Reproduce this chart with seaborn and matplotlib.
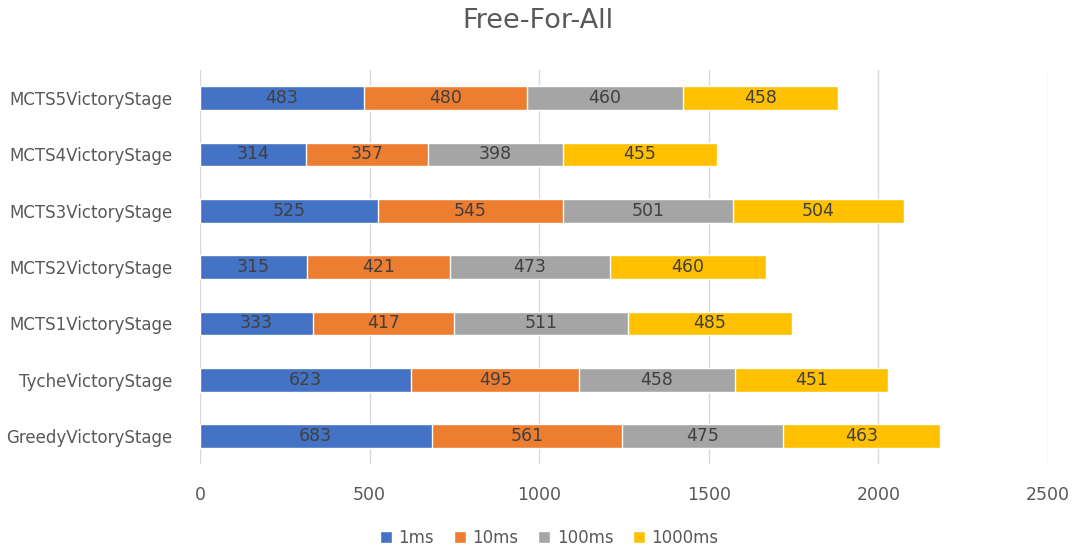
import matplotlib
matplotlib.use("Agg")
import matplotlib.pyplot as plt
import seaborn as sns
import pandas as pd
import numpy as np
from matplotlib.patches import Patch

categories = ["MCTS5VictoryStage", "MCTS4VictoryStage", "MCTS3VictoryStage",
              "MCTS2VictoryStage", "MCTS1VictoryStage", "TycheVictoryStage",
              "GreedyVictoryStage"]
series_names = ["1ms", "10ms", "100ms", "1000ms"]
v_1ms = [483, 314, 525, 315, 333, 623, 683]
v_10ms = [480, 357, 545, 421, 417, 495, 561]
v_100ms = [460, 398, 501, 473, 511, 458, 475]
v_1000ms = [458, 455, 504, 460, 485, 451, 463]
colors = ["#4472C4", "#ED7D31", "#A5A5A5", "#FFC000"]

sns.set_theme(style="white")
plt.rcParams['font.family'] = ['DejaVu Sans']

values = np.array([v_1ms, v_10ms, v_100ms, v_1000ms])
cum = np.cumsum(values, axis=0)

fig = plt.figure(figsize=(10.75, 5.5), dpi=100)
ax = fig.add_axes([0.186, 0.156, 0.789, 0.717])

for i in range(3, -1, -1):
    df = pd.DataFrame({"cat": categories, "val": cum[i]})
    sns.barplot(data=df, x="val", y="cat", orient="h", color=colors[i],
                width=0.42, saturation=1, ax=ax, zorder=2)

for i in range(4):
    for j, c in enumerate(categories):
        start = cum[i][j] - values[i][j]
        ax.text(start + values[i][j] / 2, j, str(values[i][j]), ha="center", va="center",
                fontsize=12.5, color="#404040", zorder=3)

ax.set_xlim(0, 2500)
ax.set_xticks([0, 500, 1000, 1500, 2000, 2500])
ax.set_ylim(6.5, -0.5)
ax.set_xlabel("")
ax.set_ylabel("")
ax.grid(axis="x", color="#D9D9D9", linewidth=1, zorder=0)
ax.grid(axis="y", visible=False)
for s in ax.spines.values():
    s.set_visible(False)
ax.tick_params(axis="x", length=0, labelsize=12.5, labelcolor="#595959", pad=16)
ax.tick_params(axis="y", length=0, labelsize=12, labelcolor="#595959", pad=20)

fig.suptitle("Free-For-All", y=0.985, fontsize=19.5, color="#595959")

handles = [Patch(facecolor=colors[i], label=series_names[i]) for i in range(4)]
fig.legend(handles=handles, loc="lower center", bbox_to_anchor=(0.511, -0.022), ncol=4,
           frameon=False, fontsize=12, handlelength=0.7, handleheight=0.7,
           handletextpad=0.4, columnspacing=1.2, labelcolor="#595959")

fig.savefig("out.png", dpi=100)
